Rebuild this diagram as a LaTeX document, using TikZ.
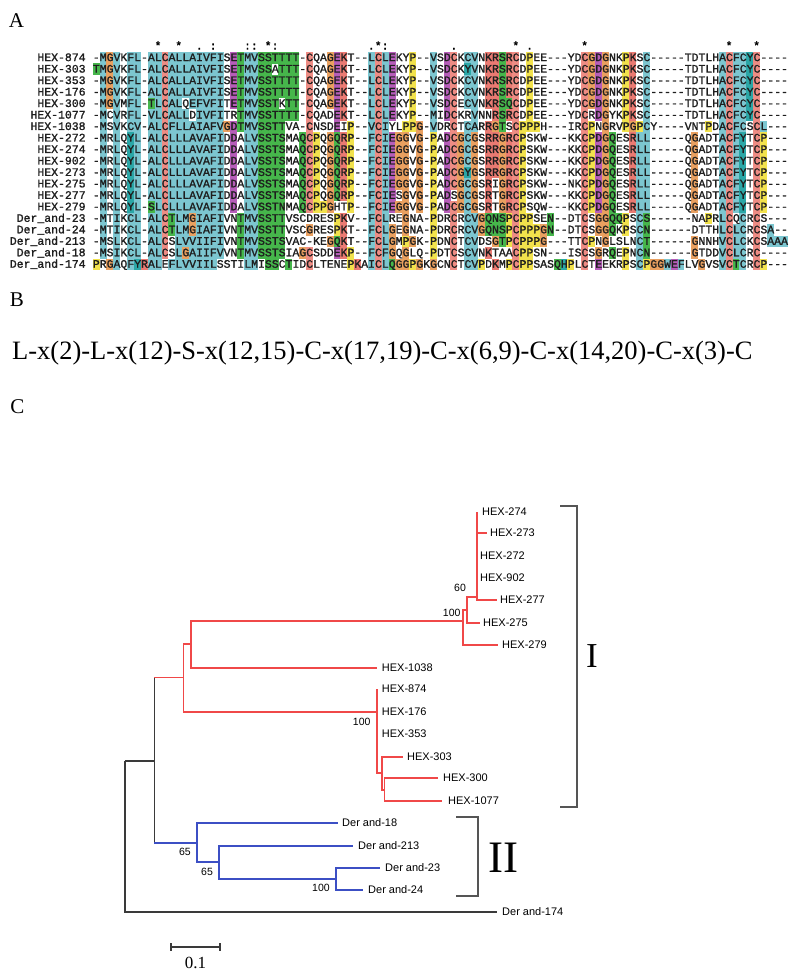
\documentclass[tikz,border=0pt]{standalone}
\usepackage{fontspec}
\setmainfont{Liberation Serif}
\newfontfamily\alnfont[Ligatures=TeXOff,FakeBold=1.4]{Liberation Mono}
\newfontfamily\treefont{Liberation Sans}
\definecolor{clb}{HTML}{7CC6D0}
\definecolor{clc}{HTML}{2BA7A7}
\definecolor{clp}{HTML}{EE8C84}
\definecolor{clr}{HTML}{EA7A72}
\definecolor{clg}{HTML}{46B64B}
\definecolor{clo}{HTML}{E9A060}
\definecolor{cly}{HTML}{F2E24C}
\definecolor{clm}{HTML}{B65DB9}
\definecolor{alntxt}{HTML}{1E1E1E}
\definecolor{treered}{HTML}{F04848}
\definecolor{treeblue}{HTML}{3C4FC4}
\definecolor{treeblk}{HTML}{3A3A3A}
\definecolor{brkgray}{HTML}{555555}
\newcount\alncol
\def\alnrow#1#2{\alncol=0 \edef\alnrowy{#1}\alnloop#2\relax}
\def\alnloop#1{\ifx#1\relax\else\advance\alncol by 1 \alncell#1\expandafter\alnloop\fi}
\def\alncell#1{\if#1.\else\fill[cl#1] ({92.7+(\the\alncol-1)*6.88},{\alnrowy-5.8}) rectangle ++(6.98,11.6);\fi}
\newcommand\alnline[4]{%
  \pgfmathsetmacro\alnyc{57.7+(#1-1)*11.48}%
  \alnrow{\alnyc}{#4}%
  \node[alnlbl] (lab#1) at (85.8,\alnyc+3.4) {#2};%
  \node[alnseq] (seq#1) at (92.7,\alnyc+3.4) {#3};%
}
\begin{document}
\begin{tikzpicture}[x=1pt,y=-1pt,
  alnseq/.style={anchor=base west,inner sep=0pt,font=\alnfont\fontsize{11.47}{11.47}\selectfont,text=alntxt},
  alnlbl/.style={anchor=base east,inner sep=0pt,font=\alnfont\fontsize{11.47}{11.47}\selectfont,text=alntxt},
  consmark/.style={anchor=base,inner sep=0pt,font=\alnfont\fontsize{11.47}{11.47}\selectfont},
  panel/.style={anchor=base,inner sep=0pt,font=\fontsize{21}{21}\selectfont},
  tl/.style={line width=1.6pt},
  redl/.style={tl,draw=treered},
  bluel/.style={tl,draw=treeblue},
  blkl/.style={tl,draw=treeblk},
  brk/.style={line width=1.6pt,draw=brkgray},
  leaf/.style={anchor=west,inner sep=0pt,xshift=4pt,font=\treefont\fontsize{11}{11}\selectfont},
  boot/.style={inner sep=0pt,font=\treefont\fontsize{10.5}{10.5}\selectfont}]
\useasboundingbox (0,0) rectangle (800,975);
\fill[white] (0,0) rectangle (800,975);
% ---------- Panel A ----------
\node[panel] (pA) at (16.5,27) {A};
\foreach \c/\m in {10/*,13/*,16/.,18/:,23/:,24/:,26/*,27/:,41/.,42/*,43/:,53/.,62/*,64/.,72/*,93/*,97/*}
  \node[consmark] (cm\c) at ({92.7+(\c-0.5)*6.88},49.6) {\m};
\alnline{1}{HEX-874}{-MGVKFL-ALCALLAIVFISETMVSSTTTT-CQAGEKT--LCLEKYP--VSDCKCVNKRSRCDPEE---YDCGDGNKPKSC-----TDTLHACFCYC----}{.bob.bb.bb pbbbbbbbb. mgbbgggggg .p..omr... bpbm..y..b .mp.bb.rrg rp.y...... .pomo..yr. b......... .bpbbcp... .}
\alnline{2}{HEX-303}{TMGVKFL-ALCALLAIVFISETMVSSATTT-CQAGEKT--LCLEKYP--VSDCKYVNKRSRCDPEE---YDCGDGNKPKSC-----TDTLHACFCYC----}{gbob.bb.bb pbbbbbbbb. mgbbgg.ggg .p..omr... bpbm..y..b .mp.cb.rrg rp.y...... .pomo..yr. b......... .bpbbcp... .}
\alnline{3}{HEX-353}{-MGVKFL-ALCALLAIVFISETMVSSTTTT-CQAGEKT--LCLEKYP--VSDCKCVNKRSRCDPEE---YDCGDGNKPKSC-----TDTLHACFCYC----}{.bob.bb.bb pbbbbbbbb. mgbbgggggg .p..omr... bpbm..y..b .mp.bb.rrg rp.y...... .pomo..yr. b......... .bpbbcp... .}
\alnline{4}{HEX-176}{-MGVKFL-ALCALLAIVFISETMVSSTTTT-CQAGEKT--LCLEKYP--VSDCKCVNKRSRCDPEE---YDCGDGNKPKSC-----TDTLHACFCYC----}{.bob.bb.bb pbbbbbbbb. mgbbgggggg .p..omr... bpbm..y..b .mp.bb.rrg rp.y...... .pomo..yr. b......... .bpbbcp... .}
\alnline{5}{HEX-300}{-MGVMFL-TLCALQEFVFITETMVSSTKTT-CQAGEKT--LCLEKYP--VSDCECVNKRSQCDPEE---YDCGDGNKPKSC-----TDTLHACFCYC----}{.bob.bb.gb pbb.bbbbb. mgbbggg.gg .p..omr... bpbm..y..b .mp.bb.rrg gp.y...... .pomo..yr. b......... .bpbbcp... .}
\alnline{6}{HEX-1077}{-MCVRFL-VLCALLDIVFITRTMVSSTTTT-CQADEKT--LCLEKYP--MIDCKRVNNRSRCDPEE---YDCRDGYKPKSC-----TDTLHACFCYC----}{.b.b.bb.bb pbbb.bbbb. .gbbgggggg .p...mr... bpbm..y..b .mp..b..rg rp.y...... .p.mo..yr. b......... .bpbbcp... .}
\alnline{7}{HEX-1038}{-MSVKCV-ALCFLLAIAFVGDTMVSSTTVA-CNSDEIP--VCIYLPPG-VDRCTCARRGTSCPPPH---IRCPNGRVPGPCY----VNTPDACFCSCL---}{.b.b.bb.bb pbbbbbbbbo mgbbgggg.. .p...m.y.. bpb..yyo.b ..p.bb.rog .pyyy..... .py.o..yoy b........y .bpbb.pb.. .}
\alnline{8}{HEX-272}{-MRLQYL-ALCLLLAVAFIDDALVSSTSMAQCPQGQRP--FCIEGGVG-PADCGCGSRRGRCPSKW---KKCPDGQESRLL-----QGADTACFYTCP---}{.b.b.cb.bb pbbbbbbbb. m.bbgggg.. gpy.ogry.. bpbmoo.o.y .mpobo.rro rpy....... .pymog..rb b......o.. .bpbc.py.. .}
\alnline{9}{HEX-274}{-MRLQYL-ALCLLLAVAFIDDALVSSTSMAQCPQGQRP--FCIEGGVG-PADCGCGSRRGRCPSKW---KKCPDGQESRLL-----QGADTACFYTCP---}{.b.b.cb.bb pbbbbbbbb. m.bbgggg.. gpy.ogry.. bpbmoo.o.y .mpobo.rro rpy....... .pymog..rb b......o.. .bpbc.py.. .}
\alnline{10}{HEX-902}{-MRLQYL-ALCLLLAVAFIDDALVSSTSMAQCPQGQRP--FCIEGGVG-PADCGCGSRRGRCPSKW---KKCPDGQESRLL-----QGADTACFYTCP---}{.b.b.cb.bb pbbbbbbbb. m.bbgggg.. gpy.ogry.. bpbmoo.o.y .mpobo.rro rpy....... .pymog..rb b......o.. .bpbc.py.. .}
\alnline{11}{HEX-273}{-MRLQYL-ALCLLLAVAFIDDALVSSTSMAQCPQGQRP--FCIEGGVG-PADCGYGSRRGRCPSKW---KKCPDGQESRLL-----QGADTACFYTCP---}{.b.b.cb.bb pbbbbbbbb. m.bbgggg.. gpy.ogry.. bpbmoo.o.y .mpoco.rro rpy....... .pymog..rb b......o.. .bpbc.py.. .}
\alnline{12}{HEX-275}{-MRLQYL-ALCLLLAVAFIDDALVSSTSMAQCPQGQRP--FCIEGGVG-PADCGCGSRIGRCPSKW---NKCPDGQESRLL-----QGADTACFYTCP---}{.b.b.cb.bb pbbbbbbbb. m.bbgggg.. gpy.ogry.. bpbmoo.o.y .mpobo.r.o rpy....... .pymog..rb b......o.. .bpbc.py.. .}
\alnline{13}{HEX-277}{-MRLQYL-ALCLLLAVAFIDDALVSSTSMAQCPQGQRP--FCIESGVG-PADSGCGSRTGRCPSKW---KKCPDGQESRLL-----QGADTACFYTCP---}{.b.b.cb.bb pbbbbbbbb. m.bbgggg.. gpy.ogry.. bpbm.o.o.y .m.obo.r.o rpy....... .pymog..rb b......o.. .bpbc.py.. .}
\alnline{14}{HEX-279}{-MRLQYL-SLCLLLAVAFIDDALVSSTNMAQCPPGHTP--FCIEGGVG-PADCGCGSRTGRCPSQW---KKCPDGQESRLL-----QGADTACFYTCP---}{.b.b.cb.gb pbbbbbbbb. m.bbgggg.. gpyyo..y.. bpbmoo.o.y .mpobo.r.o rpy....... .pymog..rb b......o.. .bpbc.py.. .}
\alnline{15}{Der\_and-23}{-MTIKCL-ALCTLMGIAFIVNTMVSSTTVSCDRESPKV--FCLREGNA-PDRCRCVGQNSPCPPSEN--DTCSGGQQPSCS------NAPRLCQCRCS---}{.b.b.bb.bb pgbbobbbb. .gbbgggg.. .....yr... bpb..o...y ..p.bboggg ypyy..g... .p.ooggy.b g........y .bp.b.p... .}
\alnline{16}{Der\_and-24}{-MTIKCL-ALCTLMGIAFIVNTMVSSTTVSCGRESPKT--FCLGEGNA-PDRCRCVGQNSPCPPPGN--DTCSGGQKPSCN------DTTHLCLCRCSA--}{.b.b.bb.bb pgbbobbbb. .gbbgggg.. .o...yr... bpbo.o...y ..p.bboggg ypyyyog... .p.oog.y.b g......... .bpbb.p.b. .}
\alnline{17}{Der\_and-213}{-MSLKCL-ALCSLVVIIFIVNTMVSSTSVAC-KEGQKT--FCLGMPGK-PDNCTCVDSGTPCPPPG---TTCPNGLSLNCT------GNNHVCLCKCSAAA}{.b.b.bb.bb p.bbbbbbb. .gbbgggg.. ....ogr... bpbo.yo..y ..p.bb..og ypyyyo.... .py.o....b g......o.. .bpbb.p.bb b}
\alnline{18}{Der\_and-18}{-MSIKCL-ALCSLGAIIFVVNTMVSSTSIAGCSDDEKP--FCFGQGLQ-PDTCSCVNKTAACPPSN---ISCSGRQEPNCN------GTDDVCLCRC----}{.b.b.bb.bb p.bobbbbb. .gbbgggg.. op...mry.. bpbo.o...y ..p.bb.r.. .pyy...... .p.o.g.y.b g......o.. .bpbb.p... .}
\alnline{19}{Der\_and-174}{PRGAQFYRALEFLVVIILSSTILMISSCTIDCLTENEPKAICLQGGPGKGCNCTCVPDKMPCPPSASQHPLCTEEKRPSCPGGWEFLVGVSVCTCRCP---}{y.ob.bcrbb .bbbbbbb.. ..bb.gg.g. .p.....yr. bpbgooyo.o ..p.bby.r. ypyy...gcy .p.m...y.b yoobmb..o. .bpgb.py.. .}
% ---------- Panel B ----------
\node[panel] (pB) at (17,306) {B};
\node[anchor=base west,inner sep=0pt,font=\fontsize{26.5}{26.5}\selectfont] (motif) at (12,359) {L-x(2)-L-x(12)-S-x(12,15)-C-x(17,19)-C-x(6,9)-C-x(14,20)-C-x(3)-C};
% ---------- Panel C ----------
\node[panel] (pC) at (17.5,413) {C};
% tree nodes
\coordinate (root) at (125,760.7);
\coordinate (X) at (154.3,760.7);
\coordinate (R1) at (183.3,677.3);
\coordinate (R2) at (190.7,644);
\coordinate (N100) at (463,621);
\coordinate (N60) at (467,610);
\coordinate (Nin) at (477,597);
\coordinate (G) at (376.7,711.7);
\coordinate (H) at (381.7,773);
\coordinate (J) at (384.3,790);
\coordinate (B1) at (196.7,842.7);
\coordinate (B2) at (219,862);
\coordinate (B3) at (336,879);
% tips
\coordinate (t274) at (477,512);
\coordinate (t273) at (487,533);
\coordinate (t272) at (477,556);
\coordinate (t902) at (477,578);
\coordinate (t277) at (497,600);
\coordinate (t275) at (480,623);
\coordinate (t279) at (498,645);
\coordinate (t1038) at (376.7,667.7);
\coordinate (t874) at (376.7,689);
\coordinate (t176) at (376.7,711.7);
\coordinate (t353) at (376.7,733.5);
\coordinate (t303) at (403,756.7);
\coordinate (t300) at (438,778);
\coordinate (t1077) at (442,800.7);
\coordinate (t18) at (338,823);
\coordinate (t213) at (353,846);
\coordinate (t23) at (380,868);
\coordinate (t24) at (363,890);
\coordinate (t174) at (497,912);
% edges
\draw[blkl] (root) |- (X);
\draw[blkl] (root) |- (t174);
\draw[blkl] (X) -- (X |- R1);
\draw[redl] (X |- R1) -- (R1);
\draw[blkl] (X) -- (X |- B1);
\draw[bluel] (X |- B1) -- (B1);
\draw[redl] (R1) |- (R2);
\draw[redl] (R1) |- (G);
\draw[redl] (R2) |- (N100);
\draw[redl] (R2) |- (t1038);
\draw[redl] (N100) |- (N60);
\draw[redl] (N100) |- (t279);
\draw[redl] (N60) |- (Nin);
\draw[redl] (N60) |- (t275);
\foreach \t in {t274,t273,t272,t902,t277} \draw[redl] (Nin) |- (\t);
\foreach \t in {t874,t176,t353,H} \draw[redl] (G) |- (\t);
\draw[redl] (H) |- (t303);
\draw[redl] (H) |- (J);
\draw[redl] (J) |- (t300);
\draw[redl] (J) |- (t1077);
\draw[bluel] (B1) |- (t18);
\draw[bluel] (B1) |- (B2);
\draw[bluel] (B2) |- (t213);
\draw[bluel] (B2) |- (B3);
\draw[bluel] (B3) |- (t23);
\draw[bluel] (B3) |- (t24);
% leaf labels
\node[leaf,xshift=1pt] (L274) at (t274) {HEX-274};
\node[leaf,xshift=-1pt] (L273) at (t273) {HEX-273};
\node[leaf,xshift=-1pt] (L272) at (t272) {HEX-272};
\node[leaf,xshift=-1pt] (L902) at (t902) {HEX-902};
\node[leaf,xshift=-1pt] (L277) at (t277) {HEX-277};
\node[leaf,xshift=-1pt] (L275) at (t275) {HEX-275};
\node[leaf] (L279) at (t279) {HEX-279};
\node[leaf,xshift=1pt] (L1038) at (t1038) {HEX-1038};
\node[leaf,xshift=1pt] (L874) at (t874) {HEX-874};
\node[leaf,xshift=1pt] (L176) at (t176) {HEX-176};
\node[leaf,xshift=1pt] (L353) at (t353) {HEX-353};
\node[leaf] (L303) at (t303) {HEX-303};
\node[leaf,xshift=1pt] (L300) at (t300) {HEX-300};
\node[leaf,xshift=2pt] (L1077) at (t1077) {HEX-1077};
\node[leaf] (L18) at (t18) {Der and-18};
\node[leaf,xshift=1pt] (L213) at (t213) {Der and-213};
\node[leaf,xshift=1pt] (L23) at (t23) {Der and-23};
\node[leaf,xshift=1pt] (L24) at (t24) {Der and-24};
\node[leaf,xshift=1pt] (L174) at (t174) {Der and-174};
% bootstrap values
\node[boot] (b60) at (460,588) {60};
\node[boot] (b100a) at (451.7,612.7) {100};
\node[boot] (b100b) at (361.7,721.7) {100};
\node[boot] (b65a) at (185,852) {65};
\node[boot] (b65b) at (207,872) {65};
\node[boot] (b100c) at (321,888) {100};
% brackets
\coordinate (bIa) at (560,506);
\coordinate (bIb) at (577,506);
\coordinate (bIc) at (577,807);
\coordinate (bId) at (560,807);
\draw[brk] (bIa) -- (bIb) -- (bIc) -- (bId);
\node[inner sep=0pt,font=\fontsize{35}{35}\selectfont] (cI) at (592,656) {I};
\coordinate (bIIa) at (456,817);
\coordinate (bIIb) at (478,817);
\coordinate (bIIc) at (478,896);
\coordinate (bIId) at (456,896);
\draw[brk] (bIIa) -- (bIIb) -- (bIIc) -- (bIId);
\node[inner sep=0pt,font=\fontsize{45}{45}\selectfont] (cII) at (503,858) {II};
% scale bar
\coordinate (sb1) at (171,946.7);
\coordinate (sb2) at (220,946.7);
\draw[blkl] (sb1) -- (sb2);
\draw[blkl] ([yshift=-4pt]sb1) -- ([yshift=4pt]sb1);
\draw[blkl] ([yshift=-4pt]sb2) -- ([yshift=4pt]sb2);
\node[inner sep=0pt,font=\fontsize{17}{17}\selectfont] (sbl) at (195.5,963) {0.1};
\end{tikzpicture}
\end{document}
